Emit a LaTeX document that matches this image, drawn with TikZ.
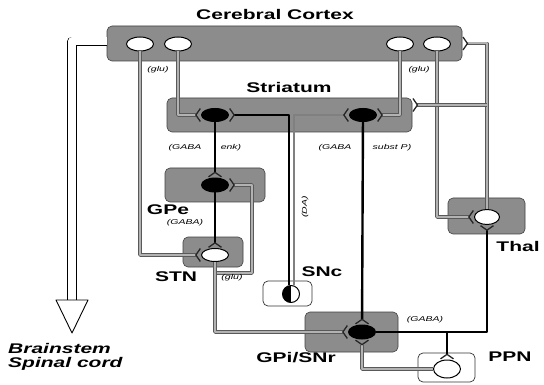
\documentclass[tikz,border=0pt]{standalone}
\usepackage{fontspec}
\setmainfont{Liberation Sans}
\newfontfamily\widefont[FakeStretch=1.5]{Liberation Sans}
\usetikzlibrary{positioning, arrows.meta, shapes.geometric, calc}

\begin{document}
\begin{tikzpicture}[x=1pt, y=-1pt, line join=round,
    region/.style={rectangle, rounded corners=5pt, draw=black!75, fill=black!45, line width=0.6pt, inner sep=0pt},
    nucleus/.style={rectangle, rounded corners=5pt, draw=black!80, fill=white, line width=0.7pt, inner sep=0pt},
    cellw/.style={ellipse, draw, fill=white, line width=1pt, minimum width=27pt, minimum height=14pt, inner sep=0pt},
    cellb/.style={cellw, fill=black},
    lbl/.style={font=\widefont\bfseries\fontsize{14}{14}\selectfont, inner sep=0pt},
    chem/.style={font=\widefont\itshape\fontsize{7}{7}\selectfont, inner sep=0pt},
    glu/.style={draw=black!65, double=black!30, double distance=2pt, line width=0.9pt},
    gaba/.style={draw=black, line width=2.4pt},
    da/.style={draw=black!50, line width=1.6pt},
    syn/.style={-{Straight Barb[reversed, length=4.5pt, width=13pt, line width=1.3pt, color=black!85]}}]
    \useasboundingbox (0,0) rectangle (544,385);

    \node[region, minimum width=355pt, minimum height=35pt] (ctx) at (284.5,43.5) {};
    \node[region, minimum width=245pt, minimum height=34pt] (str) at (289.5,115) {};
    \node[region, minimum width=100pt, minimum height=34pt] (gpe) at (215,185) {};
    \node[region, minimum width=60pt, minimum height=30pt] (stn) at (213,252) {};
    \node[region, minimum width=77pt, minimum height=36pt] (thal) at (486.5,216) {};
    \node[region, minimum width=93pt, minimum height=40pt] (gpi) at (351.5,332) {};
    \node[nucleus, minimum width=49pt, minimum height=25pt] (snc) at (287.5,293.5) {};
    \node[nucleus, minimum width=57pt, minimum height=29pt] (ppn) at (446.5,367.5) {};

    \node[cellw] (c1) at (140,44) {};
    \node[cellw] (c2) at (178,44) {};
    \node[cellw] (c3) at (400,44) {};
    \node[cellw] (c4) at (437,44) {};
    \node[cellb, minimum height=13pt] (s1) at (215,115) {};
    \node[cellb, minimum height=13pt] (s2) at (363,115) {};
    \node[cellb] (gpn) at (215,185) {};
    \node[cellw, minimum height=13pt] (stnn) at (215,255) {};
    \node[cellw, minimum width=25pt, minimum height=15pt] (thn) at (487,217) {};
    \node[cellb] (gpin) at (362,332) {};
    \node[circle, draw, fill=white, line width=1pt, minimum size=17pt, inner sep=0pt,
          path picture={\fill[black] (path picture bounding box.north) rectangle (path picture bounding box.south west);}] (sncn) at (291,294) {};
    \node[cellw, minimum height=18pt] (ppnn) at (447,369) {};

    \draw[glu, syn] (c2) |- (s1);
    \draw[glu, syn] (c3) |- (s2);
    \draw[glu, syn] (c1) |- (stnn);
    \draw[glu, syn] (c4) |- (thn);
    \draw[glu, syn] (thn) |- (ctx);
    \coordinate (thbr) at (487,105);
    \draw[glu, syn] (thbr) -- (thbr -| str.east);
    \draw[gaba, syn] (s1) -- (gpn);
    \draw[gaba, syn] (gpn) -- (stnn);
    \coordinate (stnbend) at (252,273);
    \draw[glu, syn] (stnn) |- (stnbend) |- (gpn);
    \draw[glu, syn] (stnn) |- (gpin);
    \draw[gaba, syn] (s2) -- (gpin);
    \draw[gaba, syn] ([xshift=-2pt]sncn.north) |- (s1);
    \draw[da, syn] ([xshift=3pt]sncn.north) |- (s2);
    \draw[gaba, syn] (gpin) -| (thn);
    \draw[gaba, syn] (ppnn.north |- gpin) -- (ppnn);
    \draw[glu, syn] (ppnn) -| (gpin);

    \coordinate (bsh) at (72,300);
    \draw[line width=0.9pt, double=white, double distance=8pt] ([yshift=2pt]ctx.west) -| (bsh);
    \draw[line width=0.9pt, fill=white] ($(bsh)+(-16,0)$) -- ($(bsh)+(16,0)$) -- ($(bsh)+(0,33)$) -- cycle;

    \node[lbl] (ctxl) at (275,14) {Cerebral Cortex};
    \node[lbl] (strl) at (289,87) {Striatum};
    \node[lbl] (gpel) at (168,210) {GPe};
    \node[lbl] (stnl) at (176,277) {STN};
    \node[lbl] (sncl) at (322,272) {SNc};
    \node[lbl] (thl) at (518,246) {Thal};
    \node[lbl] (gpil) at (296,358) {GPi/SNr};
    \node[lbl] (ppnl) at (510,357) {PPN};
    \node[lbl, font=\widefont\bfseries\itshape\fontsize{14}{14}\selectfont, align=left, anchor=west] (bsl) at (8,357) {Brainstem\\Spinal cord};

    \node[chem] (glu1) at (158,70) {(glu)};
    \node[chem] (glu2) at (419,70) {(glu)};
    \node[chem] (enka) at (185,148) {(GABA};
    \node[chem] (enkb) at (231,148) {enk)};
    \node[chem] (spa) at (335,148) {(GABA};
    \node[chem] (spb) at (392,148) {subst P)};
    \node[chem, rotate=90] (dal) at (305,207) {(DA)};
    \node[chem] (gpet) at (185,223) {(GABA)};
    \node[chem] (stnt) at (232,278) {(glu)};
    \node[chem] (gpit) at (425,320) {(GABA)};
\end{tikzpicture}
\end{document}
